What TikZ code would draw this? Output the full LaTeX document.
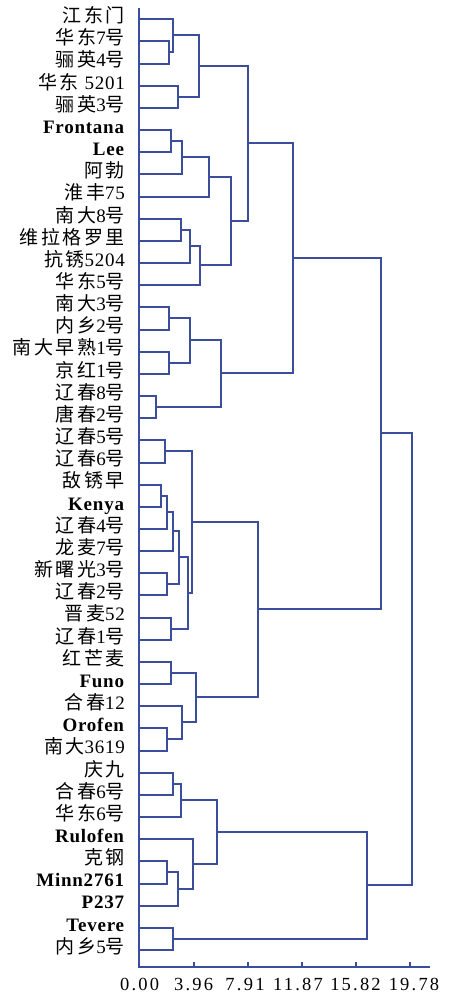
\documentclass[tikz,border=0pt]{standalone}
\usepackage{fontspec}
\setmainfont{Liberation Serif}
\newfontfamily\cjk[LetterSpace=13]{Noto Sans CJK SC}
\newfontfamily\latlab[LetterSpace=4]{Liberation Serif}
\newfontfamily\tickfont[LetterSpace=12]{Liberation Serif}
\newcommand\zh[1]{{\cjk #1}}
\usetikzlibrary{calc}
\definecolor{dendro}{RGB}{58,78,156}
\tikzset{
  dl/.style={draw=dendro, line width=1.6pt, line join=miter},
  lab/.style={anchor=east, inner sep=0pt, text height=0.66em, text depth=0pt,
    font=\fontsize{19}{22}\selectfont\latlab},
  ticklab/.style={anchor=base, inner sep=0pt, font=\fontsize{18.5}{21}\selectfont\tickfont}
}
\newcommand\mrg[4]{%
  \path let \p1=(#3), \p2=(#4) in coordinate (#1) at ({round(#2)},{round((\y1+\y2)/2)});
  \draw[dl] (#3) -| (#1) |- (#4);}
\begin{document}
\begin{tikzpicture}[x=1pt,y=1pt]
\useasboundingbox (0,0) rectangle (453,996);
% leaves
\foreach \i in {1,...,43}
  \coordinate (L\i) at (139,{round(996-19.3-(\i-1)*22.16)});
\foreach \t [count=\i] in {
  \zh{江东门},\zh{华东}7\zh{号},\zh{骊英}4\zh{号},\zh{华东} 5201,\zh{骊英}3\zh{号},
  \textbf{Frontana},\textbf{Lee},\zh{阿勃},\zh{淮丰}75,\zh{南大}8\zh{号},
  \zh{维拉格罗里},\zh{抗锈}5204,\zh{华东}5\zh{号},\zh{南大}3\zh{号},\zh{内乡}2\zh{号},
  \zh{南大早熟}1\zh{号},\zh{京红}1\zh{号},\zh{辽春}8\zh{号},\zh{唐春}2\zh{号},\zh{辽春}5\zh{号},
  \zh{辽春}6\zh{号},\zh{敌锈早},\textbf{Kenya},\zh{辽春}4\zh{号},\zh{龙麦}7\zh{号},
  \zh{新曙光}3\zh{号},\zh{辽春}2\zh{号},\zh{晋麦}52,\zh{辽春}1\zh{号},\zh{红芒麦},
  \textbf{Funo},\zh{合春}12,\textbf{Orofen},\zh{南大}3619,\zh{庆九},
  \zh{合春}6\zh{号},\zh{华东}6\zh{号},\textbf{Rulofen},\zh{克钢},\textbf{Minn2761},
  \textbf{P237},\textbf{Tevere},\zh{内乡}5\zh{号}}
  \node[lab] (T\i) at (125,{996-19.3-(\i-1)*22.16}) {\t};
% group A
\mrg{n23}{169.3}{L2}{L3}
\mrg{n123}{173.3}{L1}{n23}
\mrg{n45}{177.7}{L4}{L5}
\mrg{nA}{199}{n123}{n45}
% group B
\mrg{n67}{171}{L6}{L7}
\mrg{n678}{181.7}{n67}{L8}
\mrg{n6789}{209.3}{n678}{L9}
\mrg{n1011}{181}{L10}{L11}
\mrg{n1012}{190}{n1011}{L12}
\mrg{n1013}{200}{n1012}{L13}
\mrg{nB}{231}{n6789}{n1013}
\mrg{nAB}{248.3}{nA}{nB}
% group C
\mrg{n1415}{169.3}{L14}{L15}
\mrg{n1617}{169.3}{L16}{L17}
\mrg{n1417}{190}{n1415}{n1617}
\mrg{n1819}{156}{L18}{L19}
\mrg{nC}{220.7}{n1417}{n1819}
\mrg{nABC}{293.3}{nAB}{nC}
% group D
\mrg{n2021}{164.7}{L20}{L21}
\mrg{n2223}{160.7}{L22}{L23}
\mrg{n2224}{166.7}{n2223}{L24}
\mrg{n2225}{172.7}{n2224}{L25}
\mrg{n2627}{166.7}{L26}{L27}
\mrg{n2227}{179.3}{n2225}{n2627}
\mrg{n2829}{171}{L28}{L29}
\mrg{n2229}{188.3}{n2227}{n2829}
\mrg{n2029}{191.7}{n2021}{n2229}
\mrg{n3031}{171}{L30}{L31}
\mrg{n3334}{166.7}{L33}{L34}
\mrg{n3234}{181.7}{L32}{n3334}
\mrg{n3034}{196}{n3031}{n3234}
\mrg{nD}{257.7}{n2029}{n3034}
\mrg{nTop}{381}{nABC}{nD}
% group E
\mrg{n3536}{172.7}{L35}{L36}
\mrg{n3537}{181}{n3536}{L37}
\mrg{n3940}{166.7}{L39}{L40}
\mrg{n3941}{177.7}{n3940}{L41}
\mrg{n3841}{193.3}{L38}{n3941}
\mrg{n3541}{216.7}{n3537}{n3841}
\mrg{n4243}{172.7}{L42}{L43}
\mrg{nE}{366.7}{n3541}{n4243}
\mrg{root}{412}{nTop}{nE}
% axes
\coordinate (top) at (139,988);
\coordinate (orig) at (139,29);
\coordinate (xend) at (430,29);
\draw[dl] (top) -- (orig) -- (xend);
\foreach \x/\v/\c [count=\k] in {139/0.00/139.7,194/3.96/193.7,248/7.91/245,302/11.87/298,356/15.82/355.5,410/19.78/414}{
  \draw[dl] (\x,29) -- ++(0,4.5);
  \node[ticklab] (tk\k) at (\c,5.3) {\v};
}
\end{tikzpicture}
\end{document}
